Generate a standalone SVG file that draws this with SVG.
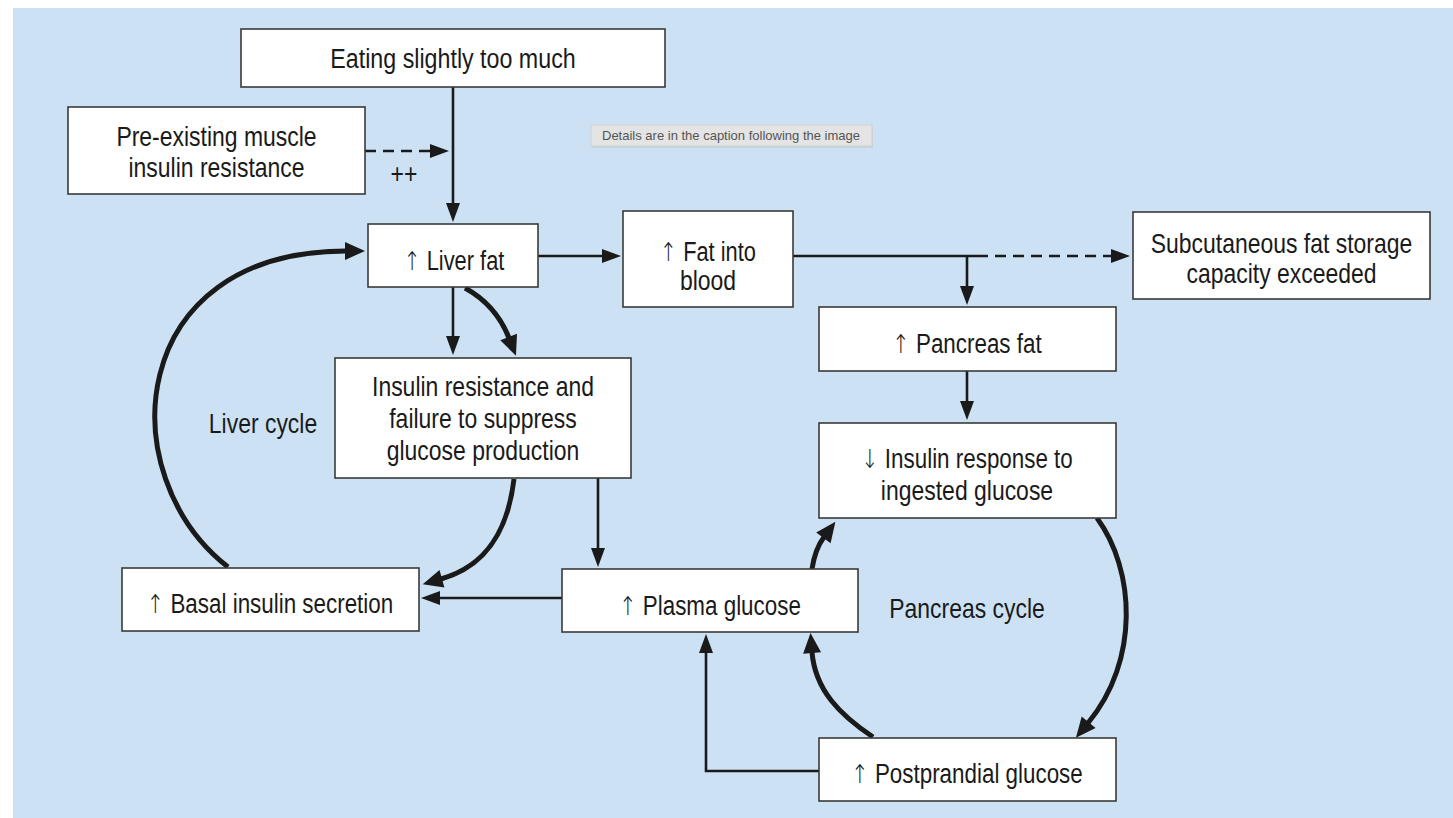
<svg xmlns="http://www.w3.org/2000/svg" width="1453" height="818" viewBox="0 0 1453 818">
<style>
.box{fill:#ffffff;stroke:#3a3a3a;stroke-width:1.6}
.t{font-family:"Liberation Sans",Arial,"DejaVu Sans",sans-serif;font-size:28px;fill:#1a1a1a;text-anchor:middle}
.ar{font-family:"DejaVu Sans",sans-serif;font-weight:200;font-size:26px}
.thin{fill:none;stroke:#1a1a1a;stroke-width:2.6}
.thick{fill:none;stroke:#1a1a1a;stroke-width:5}
.dash{stroke-dasharray:11 7}
.tip{font-family:"Liberation Sans",Arial,sans-serif;font-size:13px;fill:#555555;text-anchor:middle}
</style>
<defs>
<marker id="ah" markerUnits="userSpaceOnUse" markerWidth="20" markerHeight="16" refX="1" refY="8" orient="auto" overflow="visible">
<path d="M0,1 L19,8 L0,15 z" fill="#1a1a1a"/>
</marker>
<marker id="ahb" markerUnits="userSpaceOnUse" markerWidth="22" markerHeight="20" refX="1" refY="10" orient="auto" overflow="visible">
<path d="M0,1 L20,10 L0,19 z" fill="#1a1a1a"/>
</marker>
</defs>
<rect x="0" y="0" width="1453" height="818" fill="#ffffff"/>
<rect x="13" y="8" width="1440" height="810" fill="#cce2f4"/>

<g id="tooltip">
<rect x="592" y="127" width="281" height="21" fill="#bfc8d0" opacity="0.6"/>
<rect x="591" y="125" width="281" height="21" fill="#e4e4e4" stroke="#cfcfcf" stroke-width="1"/>
<text class="tip" x="731" y="140">Details are in the caption following the image</text>
</g>

<g id="connectors">
<path class="thin" d="M453,87 V204" marker-end="url(#ah)"/>
<path class="thin dash" d="M365,151 H431" marker-end="url(#ah)"/>
<path class="thin" d="M538,256 H603" marker-end="url(#ah)"/>
<path class="thin" d="M793,256 H977"/>
<path class="thin dash" d="M977,256 H1112" marker-end="url(#ah)"/>
<path class="thin" d="M967,256 V287" marker-end="url(#ah)"/>
<path class="thin" d="M967,371 V402" marker-end="url(#ah)"/>
<path class="thin" d="M453,287 V337" marker-end="url(#ah)"/>
<path class="thick" d="M465,288 Q496,305 509,338" marker-end="url(#ahb)"/>
<path class="thick" d="M228,567 C110,475 125,251 346,251" marker-end="url(#ahb)"/>
<path class="thick" d="M514,479 C508,530 487,566 441,579" marker-end="url(#ahb)"/>
<path class="thin" d="M598,478 V549" marker-end="url(#ah)"/>
<path class="thin" d="M562,598 H439" marker-end="url(#ah)"/>
<path class="thick" d="M812,569 Q815,549 824,537" marker-end="url(#ahb)"/>
<path class="thick" d="M1097,518 C1135,570 1140,660 1088,723" marker-end="url(#ahb)"/>
<path class="thick" d="M873,737 C840,715 815,690 812,652" marker-end="url(#ahb)"/>
<path class="thin" d="M819,771 H706 V652" marker-end="url(#ah)"/>
</g>

<g id="eating">
<rect class="box" x="241" y="29" width="424" height="58"/>
<text class="t" transform="translate(453,68) scale(0.83,1)">Eating slightly too much</text>
</g>
<g id="preexisting">
<rect class="box" x="68" y="107" width="297" height="87"/>
<text class="t" transform="translate(216.5,146) scale(0.82,1)">Pre-existing muscle</text>
<text class="t" transform="translate(216.5,177) scale(0.82,1)">insulin resistance</text>
</g>
<g id="plusplus">
<text class="t" transform="translate(404,183) scale(0.82,1)">++</text>
</g>
<g id="liverfat">
<rect class="box" x="368" y="224" width="170" height="63"/>
<text class="t" transform="translate(454,270) scale(0.78,1)"><tspan class="ar">↑</tspan> Liver fat</text>
</g>
<g id="fatintoblood">
<rect class="box" x="623" y="211" width="170" height="96"/>
<text class="t" transform="translate(708,261) scale(0.78,1)"><tspan class="ar">↑</tspan> Fat into</text>
<text class="t" transform="translate(708,290) scale(0.82,1)">blood</text>
</g>
<g id="subcutaneous">
<rect class="box" x="1133" y="212" width="297" height="87"/>
<text class="t" transform="translate(1281.5,253) scale(0.82,1)">Subcutaneous fat storage</text>
<text class="t" transform="translate(1281.5,283) scale(0.82,1)">capacity exceeded</text>
</g>
<g id="pancreasfat">
<rect class="box" x="819" y="307" width="297" height="64"/>
<text class="t" transform="translate(967,353) scale(0.8,1)"><tspan class="ar">↑</tspan> Pancreas fat</text>
</g>
<g id="insulinresistance">
<rect class="box" x="335" y="358" width="296" height="120"/>
<text class="t" transform="translate(483,396) scale(0.82,1)">Insulin resistance and</text>
<text class="t" transform="translate(483,428) scale(0.82,1)">failure to suppress</text>
<text class="t" transform="translate(483,460) scale(0.82,1)">glucose production</text>
</g>
<g id="livercycle">
<text class="t" transform="translate(263,433) scale(0.82,1)">Liver cycle</text>
</g>
<g id="insulinresponse">
<rect class="box" x="819" y="423" width="297" height="95"/>
<text class="t" transform="translate(967,468) scale(0.8,1)"><tspan class="ar">↓</tspan> Insulin response to</text>
<text class="t" transform="translate(967,500) scale(0.82,1)">ingested glucose</text>
</g>
<g id="basal">
<rect class="box" x="122" y="568" width="297" height="63"/>
<text class="t" transform="translate(270,613) scale(0.8,1)"><tspan class="ar">↑</tspan> Basal insulin secretion</text>
</g>
<g id="plasma">
<rect class="box" x="562" y="569" width="296" height="63"/>
<text class="t" transform="translate(710,615) scale(0.8,1)"><tspan class="ar">↑</tspan> Plasma glucose</text>
</g>
<g id="pancreascycle">
<text class="t" transform="translate(967,618) scale(0.82,1)">Pancreas cycle</text>
</g>
<g id="postprandial">
<rect class="box" x="819" y="738" width="297" height="63"/>
<text class="t" transform="translate(967,783) scale(0.8,1)"><tspan class="ar">↑</tspan> Postprandial glucose</text>
</g>
</svg>
